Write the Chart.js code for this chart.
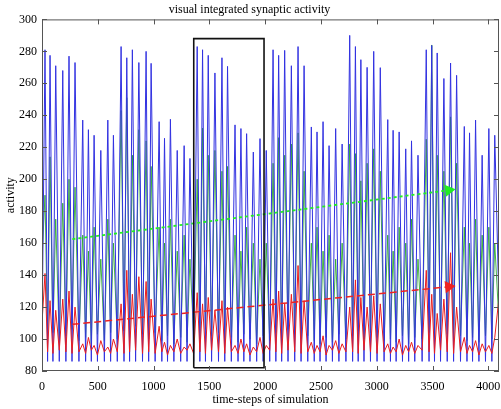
<!DOCTYPE html>
<html><head><meta charset="utf-8">
<script src="https://cdn.jsdelivr.net/npm/chart.js@4"></script>
<style>html,body{margin:0;padding:0;background:#fff}</style>
</head><body>
<canvas id="c" width="501" height="409"></canvas>
<script>
// time-steps at which values were read (peaks and troughs interleaved)
const steps = [0,
 27,50, 72,98, 123,155, 186,214, 242,269, 296,331,
 365,391, 416,442, 467,497, 527,559, 590,615, 640,675,
 709,735, 760,785, 810,839, 868,901, 933,956, 978,1014,
 1050,1074, 1098,1125, 1151,1182, 1212,1243, 1274,1300, 1326,1359,
 1391,1415, 1439,1465, 1490,1520, 1550,1582, 1613,1638, 1663,1697,
 1730,1757, 1783,1809, 1834,1864, 1894,1924, 1954,1982, 2010,2041,
 2071,2096, 2121,2148, 2175,2205, 2235,2265, 2295,2322, 2349,2382,
 2414,2440, 2465,2492, 2519,2546, 2573,2603, 2632,2661, 2690,2724,
 2758,2784, 2809,2834, 2858,2886, 2914,2944, 2973,3003, 3032,3066,
 3099,3123, 3147,3174, 3201,3231, 3260,3286, 3312,3341, 3370,3407,
 3444,3469, 3493,3518, 3542,3572, 3602,3632, 3662,3689, 3716,3751,
 3785,3809, 3832,3859, 3886,3916, 3945,3975, 4005,4032, 4058,4096];

const blue = [100,
 281,86, 277.5,86, 271,86, 268,86, 277,86, 273,86,
 237,86, 231,86, 227.5,86, 218,86, 237,86, 227.5,86,
 283,86, 276,86, 281,86, 273,86, 280,86, 272.5,86,
 236,86, 225.6,86, 237.5,86, 218,86, 221,86, 213,86,
 283,86, 281,86, 277.5,86, 266.5,86, 276,86, 270.6,86,
 234,86, 231.7,86, 228.5,86, 217,86, 225.4,86, 218,86,
 281,86, 277.5,86, 280.6,86, 271,86, 283,86, 271,86,
 232.7,86, 229.6,86, 236,86, 221,86, 231.7,86, 222,86,
 290,86, 283,86, 274.8,86, 270,86, 280,86, 269.8,86,
 237.3,86, 230.6,86, 229.6,86, 219,86, 224,86, 215,86,
 281,86, 283.7,86, 279,86, 263,86, 272.7,86, 265,86,
 233,86, 229,86, 237,86, 215,86, 231.7,86, 227.5,120];

const green = [150,
 190,100, 214,104, 175,98, 185,102, 200,106, 195,99,
 165,101, 155,97, 170,103, 150,99, 175,104, 160,100,
 243,105, 251,101, 215,108, 231,103, 224,100, 208,104,
 170,99, 160,102, 175,97, 155,101, 165,98, 150,103,
 200,100, 232,106, 215,102, 218,104, 205,99, 208,101,
 165,98, 155,103, 170,100, 160,97, 150,102, 160,99,
 210,104, 226,101, 215,106, 222,103, 229,100, 205,102,
 160,99, 170,97, 155,101, 165,98, 150,103, 160,100,
 222,102, 216,105, 199,100, 210,104, 219,101, 205,99,
 165,100, 155,98, 170,102, 160,97, 175,101, 150,100,
 225,104, 284,101, 215,106, 205,103, 239,100, 210,102,
 170,99, 160,101, 175,98, 165,102, 170,100, 160,110];

const red = [110,
 141,92, 124,91, 118,93, 125,92, 130,91, 120,92,
 97,91, 101,93, 96,90, 99,92, 95,91, 100,92,
 122,91, 143,92, 128,93, 139,91, 136,92, 125,91,
 108,92, 98,90, 96,92, 100,91, 95,93, 97,91,
 129,92, 122,91, 126,93, 118,92, 124,91, 120,92,
 96,91, 100,92, 97,90, 95,92, 101,91, 96,93,
 125,92, 130,91, 122,93, 128,92, 146,91, 124,92,
 98,91, 96,92, 102,90, 96,93, 99,91, 97,92,
 120,92, 137,91, 126,93, 120,92, 127,91, 122,92,
 97,91, 95,92, 100,90, 96,92, 98,91, 96,93,
 143,92, 128,91, 116,93, 125,92, 154,91, 120,92,
 101,91, 96,92, 99,90, 97,92, 96,91, 101,126];

// trend arrows (start, arrow-head centre)
const greenArrowT = [272, 3645];
const greenArrowV = [162.5, 193.1];
const redArrowT = [272, 3645];
const redArrowV = [109.2, 132.7];

// highlighted window
const boxT = [1360, 1990, 1990, 1360, 1360];
const boxV = [82, 82, 288, 288, 82];

const xTicks = [0, 500, 1000, 1500, 2000, 2500, 3000, 3500, 4000];
const yTicks = [80, 100, 120, 140, 160, 180, 200, 220, 240, 260, 280, 300];

const pts = (t, v) => t.map((x, i) => ({x: x, y: v[i]}));
const FONT = 'Liberation Serif';

const framePlugin = {
  id: 'frame',
  beforeDraw(chart) {
    const c = chart.ctx; c.save(); c.fillStyle = '#fff';
    c.fillRect(0, 0, chart.width, chart.height); c.restore();
  },
  afterDatasetsDraw(chart) {
    const {ctx, chartArea: a, scales: {x, y}} = chart;
    ctx.save();
    ctx.strokeStyle = '#555';
    ctx.lineWidth = 1;
    ctx.strokeRect(a.left + 0.5, a.top + 0.5, a.right - a.left - 1, a.bottom - a.top - 1);
    ctx.beginPath();
    x.ticks.forEach(t => {
      const p = Math.round(x.getPixelForValue(t.value)) + 0.5;
      ctx.moveTo(p, a.bottom); ctx.lineTo(p, a.bottom - 5);
      ctx.moveTo(p, a.top); ctx.lineTo(p, a.top + 5);
    });
    y.ticks.forEach(t => {
      const p = Math.round(y.getPixelForValue(t.value)) + 0.5;
      ctx.moveTo(a.left, p); ctx.lineTo(a.left + 5, p);
      ctx.moveTo(a.right, p); ctx.lineTo(a.right - 5, p);
    });
    ctx.stroke();
    ctx.restore();
  }
};

new Chart(document.getElementById('c'), {
  type: 'line',
  data: {
    datasets: [
      {data: pts(boxT, boxV), borderColor: '#111', borderWidth: 1.6, pointRadius: 0, order: 0},
      {data: pts(redArrowT, redArrowV), borderColor: '#ee2222', backgroundColor: '#ee2222',
       borderWidth: 1.5, borderDash: [7, 4], pointRadius: [0, 7], pointStyle: 'triangle',
       pointRotation: 84.3, pointBorderWidth: 0, order: 1},
      {data: pts(greenArrowT, greenArrowV), borderColor: '#22ee22', backgroundColor: '#22ee22',
       borderWidth: 1.8, borderDash: [3, 3], pointRadius: [0, 7], pointStyle: 'triangle',
       pointRotation: 82.5, pointBorderWidth: 0, order: 1},
      {data: pts(steps, red), borderColor: 'rgb(235,30,30)', borderWidth: 1, pointRadius: 0, order: 2},
      {data: pts(steps, blue), borderColor: 'rgb(50,50,225)', borderWidth: 1, pointRadius: 0, order: 3},
      {data: pts(steps, green), borderColor: 'rgba(40,165,40,0.85)', borderWidth: 1, pointRadius: 0, order: 4}
    ]
  },
  options: {
    responsive: false,
    animation: false,
    devicePixelRatio: 1,
    layout: {autoPadding: false, padding: {top: 0, right: 2, left: 0, bottom: 0}},
    elements: {line: {tension: 0}},
    plugins: {
      legend: {display: false},
      tooltip: {enabled: false},
      title: {display: true, text: 'visual integrated synaptic activity', color: '#000',
              font: {family: FONT, size: 12, weight: 'normal'}, padding: {top: 3, bottom: 2}}
    },
    scales: {
      x: {
        type: 'linear', min: 0, max: 4096,
        afterBuildTicks: s => { s.ticks = xTicks.map(v => ({value: v})); },
        afterFit: s => { s.height = 38; s.paddingLeft = 0; s.paddingRight = 0; },
        grid: {display: false, drawTicks: false},
        border: {display: false},
        ticks: {color: '#000', font: {family: FONT, size: 12}, padding: 9, maxRotation: 0, autoSkip: false,
                callback: v => String(v)},
        title: {display: true, text: 'time-steps of simulation', color: '#000',
                font: {family: FONT, size: 12}, padding: {top: 0, bottom: 2}}
      },
      y: {
        type: 'linear', min: 80, max: 300,
        afterBuildTicks: s => { s.ticks = yTicks.map(v => ({value: v})); },
        afterFit: s => { s.width = 42; },
        grid: {display: false, drawTicks: false},
        border: {display: false},
        ticks: {color: '#000', font: {family: FONT, size: 12}, padding: 5, autoSkip: false,
                callback: v => String(v)},
        title: {display: true, text: 'activity', color: '#000',
                font: {family: FONT, size: 12}, padding: {top: 4, bottom: 0}}
      }
    }
  },
  plugins: [framePlugin]
});
</script>
</body></html>
